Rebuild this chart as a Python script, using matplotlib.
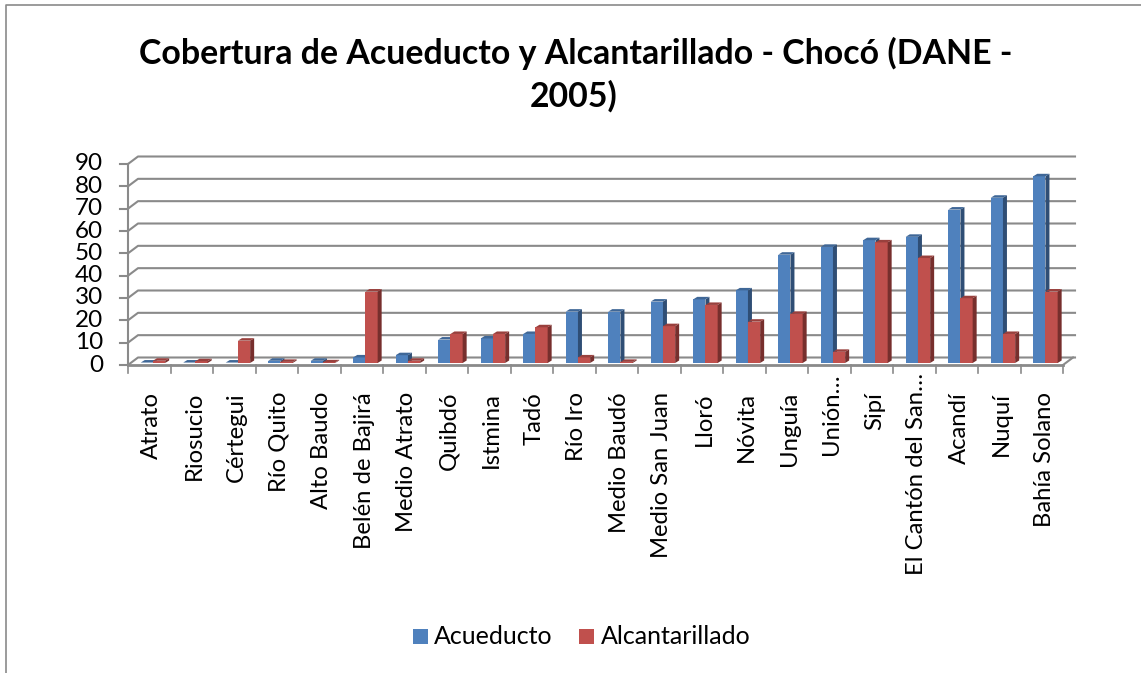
import matplotlib
matplotlib.use('Agg')
import matplotlib.pyplot as plt
from matplotlib.patches import Rectangle

municipios = ['Atrato', 'Riosucio', 'Cértegui', 'Río Quito', 'Alto Baudo', 'Belén de Bajirá',
              'Medio Atrato', 'Quibdó', 'Istmina', 'Tadó', 'Río Iro', 'Medio Baudó',
              'Medio San Juan', 'Lloró', 'Nóvita', 'Unguía', 'Unión…', 'Sipí',
              'El Cantón del San…', 'Acandí', 'Nuquí', 'Bahía Solano']
acueducto = [0.2, 0.2, 0.2, 1, 1, 2.5, 3.5, 10.5, 11, 13, 23, 23, 27.5, 28.5, 32.5, 48.5, 52, 55, 56.5, 68.7, 74, 83.6]
alcantarillado = [1, 0.8, 10, 0.5, 0.3, 32, 1, 13, 13, 16, 2.5, 0.5, 16.5, 26, 18.5, 22, 5, 54, 47, 29, 13, 32]
yticks = [0, 10, 20, 30, 40, 50, 60, 70, 80, 90]

W, H = 1141, 673
plt.rcParams['font.family'] = ['Lato', 'DejaVu Sans']
fig = plt.figure(figsize=(W / 100, H / 100), dpi=100, facecolor='white')
L, R, T, B = 128, 1063, 164, 365
ax = fig.add_axes([L / W, 1 - B / H, (R - L) / W, (B - T) / H])
ax.set_xlim(0, len(municipios))
ax.set_ylim(0, 90)
ax.axis('off')

GRAY = '#8a8a8a'
pxx = len(municipios) / (R - L)
pxy = 90 / (B - T)
dx, dy = 10 * pxx, 7.5 * pxy   # wall depth
lw = 1.5

for v in yticks:
    ax.plot([0, dx, len(municipios) + dx + 2 * pxx], [v, v + dy, v + dy], color=GRAY, lw=lw, clip_on=False, zorder=1)
    ax.plot([-8 * pxx, 0], [v, v], color=GRAY, lw=lw, clip_on=False, zorder=1)
    ax.text(-25 * pxx, v, str(v), ha='right', va='center', fontsize=17.5, color='black', clip_on=False)
ax.plot([0, 0], [0, 90], color=GRAY, lw=lw, clip_on=False, zorder=1)
ax.plot([0, len(municipios)], [0, 0], color=GRAY, lw=lw + 0.5, clip_on=False, zorder=4)
ax.plot([len(municipios), len(municipios) + dx], [0, dy], color=GRAY, lw=lw, clip_on=False, zorder=1)
for i in range(len(municipios) + 1):
    ax.plot([i, i], [0, -8 * pxy], color=GRAY, lw=1.2, clip_on=False, zorder=1)
for i, name in enumerate(municipios):
    gap = 8 if name.endswith('…') else 27
    ax.text(i + 0.5 + 2.5 * pxx, -gap * pxy, name, rotation=90, ha='center', va='top', fontsize=17.2, color='black', clip_on=False)

BLUE, BLUE_SIDE, BLUE_TOP = '#4f81bd', '#2f4e75', '#3f6797'
RED, RED_SIDE, RED_TOP = '#c0504d', '#772f2d', '#99403d'
bw = 12.2 * pxx
ox, oy = 0.3, 2 * pxy
ddx, ddy = 4 * pxx, 2.5 * pxy

def bar3d(x, v, front, side, top, z):
    ax.bar([x], [v], width=bw, bottom=oy, align='edge', color=front, lw=0, zorder=z, clip_on=False)
    t = v + oy
    ax.fill([x + bw, x + bw + ddx, x + bw + ddx, x + bw],
            [oy, oy + ddy, t + ddy, t], color=side, lw=0, zorder=z, clip_on=False)
    ax.fill([x, x + ddx, x + bw + ddx, x + bw],
            [t, t + ddy, t + ddy, t], color=top, lw=0, zorder=z, clip_on=False)

for i in range(len(municipios)):
    bar3d(i + ox, acueducto[i], BLUE, BLUE_SIDE, BLUE_TOP, 5 + i * 0.01)
    bar3d(i + ox + bw, alcantarillado[i], RED, RED_SIDE, RED_TOP, 6 + i * 0.01)

fig.text(576 / W, 1 - 53 / H, 'Cobertura de Acueducto y Alcantarillado - Chocó (DANE -', ha='center', va='center',
         fontsize=24.4, fontweight='bold', color='black')
fig.text(574 / W, 1 - 96 / H, '2005)', ha='center', va='center', fontsize=24.4, fontweight='bold', color='black')

fig.add_artist(Rectangle((413 / W, 1 - 644 / H), 15 / W, 15 / H, transform=fig.transFigure, color=BLUE, lw=0))
fig.text(434 / W, 1 - 637 / H, 'Acueducto', ha='left', va='center', fontsize=18)
fig.add_artist(Rectangle((579 / W, 1 - 644 / H), 15 / W, 15 / H, transform=fig.transFigure, color=RED, lw=0))
fig.text(601 / W, 1 - 637 / H, 'Alcantarillado', ha='left', va='center', fontsize=18)

fig.add_artist(plt.Line2D([5.5 / W, 5.5 / W, 1], [0, 1 - 4.5 / H, 1 - 4.5 / H], transform=fig.transFigure, color=GRAY, lw=1.2))

fig.savefig('out.png', dpi=100)
